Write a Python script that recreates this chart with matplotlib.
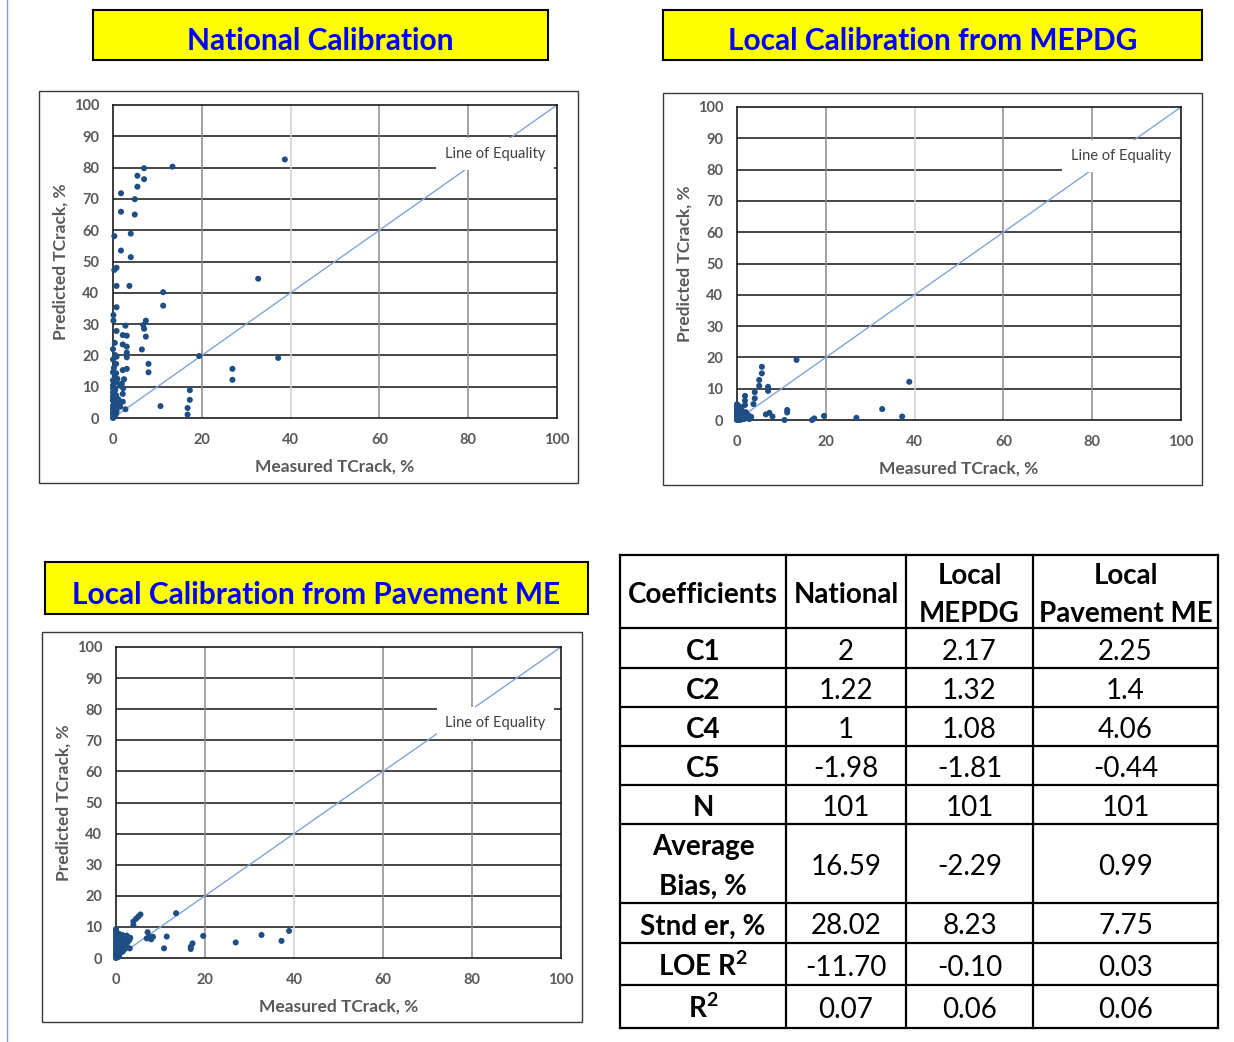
import matplotlib
matplotlib.use("Agg")
import matplotlib.pyplot as plt
from matplotlib.patches import Rectangle
from matplotlib.lines import Line2D

plt.rcParams["font.family"] = ["Lato", "DejaVu Sans"]
plt.rcParams["mathtext.fontset"] = "custom"
plt.rcParams["mathtext.rm"] = "Lato"
plt.rcParams["mathtext.bf"] = "Lato:bold"

# ---------------------------------------------------------------- data
# National calibration: measured vs predicted transverse cracking (%)
nat_measured = [38.7, 13.4, 7.0, 5.5, 7.0, 5.5, 1.8, 4.9, 1.8, 4.9, 0.3, 4.0, 1.8, 4.0,
                0.3, 0.8, 0.8, 3.7, 11.3, 11.3, 32.7, 0.8, 0.1, 0.1, 2.8, 7.4, 6.8, 7.0,
                7.4, 0.8, 2.2, 3.1, 2.2, 3.1, 6.5, 3.1, 3.1, 0.5, 0.8, 0.0, 0.7, 19.4,
                37.2, 8.0, 8.0, 26.9, 26.9, 0.0, 0.7, 2.2, 3.1, 2.5, 0.8, 1.6, 2.3, 0.0,
                0.7, 2.2, 2.2, 17.3, 17.3, 16.8, 16.8, 10.7, 0.0, 0.7, 0.0, 0.7, 0.0, 0.7,
                0.3, 1.6, 2.8, 0.0, 0.2, 0.5, 0.0, 0.3, 0.5, 0.0, 1.0, 0.2, 0.0, 0.4,
                0.0, 0.3, 0.6, 0.0, 0.2, 1.2, 0.0, 0.4, 2.0, 0.1, 0.0, 0.5, 1.4, 0.0,
                0.3, 0.0, 0.8]
nat_predicted = [82.6, 80.3, 79.8, 77.4, 76.3, 73.9, 71.8, 69.9, 65.9, 65.0, 58.1, 58.9, 53.5, 51.4,
                 47.3, 48.0, 42.2, 42.2, 40.2, 35.9, 44.5, 35.4, 32.9, 31.1, 29.5, 31.1, 29.7, 28.5,
                 26.0, 27.8, 26.5, 26.3, 23.5, 22.8, 21.9, 20.9, 19.4, 20.1, 19.6, 18.7, 17.3, 19.8,
                 19.2, 17.3, 14.6, 15.7, 12.2, 14.6, 14.3, 15.3, 15.7, 12.4, 11.4, 10.3, 9.5, 8.2,
                 7.3, 7.7, 5.2, 8.9, 5.8, 3.2, 1.1, 3.8, 6.0, 6.4, 4.0, 3.5, 2.0, 1.5,
                 0.5, 3.6, 2.8, 0.0, 1.0, 2.5, 3.0, 5.0, 9.0, 10.5, 12.5, 16.0, 22.0, 24.0,
                 1.5, 2.0, 4.5, 7.0, 8.5, 6.0, 12.0, 13.0, 11.0, 0.3, 5.5, 0.8, 4.2, 9.5,
                 3.3, 1.2, 2.2]

# Local calibration from MEPDG
mepdg_measured = [13.4, 5.6, 5.6, 5.0, 5.0, 7.0, 7.0, 4.0, 4.0, 3.7, 1.8, 1.8, 1.8, 38.8,
                  32.7, 37.2, 26.9, 19.6, 17.4, 16.9, 11.3, 11.3, 10.7, 6.5, 7.3, 8.0, 2.5, 3.2,
                  0.0, 0.2, 0.5, 0.8, 0.0, 0.3, 0.0, 0.5, 0.0, 0.4, 1.0, 1.5, 1.2, 2.0,
                  0.7, 1.0, 0.0, 2.2, 2.8, 0.1, 0.3, 0.6, 0.9, 1.3, 0.0, 0.2, 0.4, 0.0,
                  0.6, 1.1, 1.6, 0.0, 0.3, 0.8, 0.1, 0.5, 1.4, 0.0, 0.2, 2.4, 0.7, 0.0,
                  0.4, 1.9, 0.0, 0.3, 0.9, 0.1, 0.6, 0.0, 1.2, 0.2, 0.0, 0.5, 0.8, 0.0,
                  0.3, 1.7, 0.1, 0.0, 0.6, 0.4, 2.6, 0.0, 0.2, 1.0, 0.0, 0.5, 0.3, 0.0,
                  1.5, 0.1, 0.7]
mepdg_predicted = [19.2, 17.0, 14.9, 12.8, 10.9, 10.6, 9.3, 8.9, 6.9, 5.1, 7.7, 6.2, 4.8, 12.2,
                   3.5, 1.1, 0.7, 1.3, 0.5, 0.0, 3.2, 2.4, 0.0, 1.8, 2.3, 1.1, 1.6, 1.0,
                   0.0, 0.5, 1.0, 1.5, 2.0, 2.5, 3.0, 3.5, 4.0, 4.5, 0.5, 1.0, 2.0, 2.5,
                   3.0, 3.8, 5.0, 0.8, 0.3, 1.2, 1.8, 2.2, 0.2, 0.6, 2.8, 3.3, 0.0, 1.4,
                   4.2, 1.7, 0.4, 3.6, 0.9, 2.6, 0.1, 2.9, 1.9, 0.7, 1.6, 1.3, 0.2, 4.6,
                   3.9, 0.5, 2.4, 0.0, 3.1, 2.0, 1.1, 0.3, 2.7, 4.1, 1.8, 0.6, 0.1, 3.4,
                   1.5, 2.1, 0.8, 2.2, 3.7, 0.2, 1.2, 0.9, 2.5, 1.0, 0.4, 1.9, 4.3, 0.6,
                   0.3, 3.2, 2.3]

# Local calibration from Pavement ME
pme_measured = [13.5, 5.5, 5.0, 4.5, 3.9, 3.9, 0.0, 7.1, 7.5, 8.3, 6.9, 7.9, 11.4, 10.8,
                19.6, 17.2, 16.8, 16.8, 26.9, 32.7, 37.2, 38.9, 3.0, 3.1,
                0.0, 0.0, 0.0, 0.0, 0.0, 0.0, 0.0, 0.0, 0.0, 0.0, 0.0, 0.0,
                0.5, 0.8, 1.2, 1.5, 2.0, 2.4, 0.6, 1.0, 1.8, 2.6, 0.3, 0.9,
                1.4, 2.2, 0.4, 1.1, 1.7, 2.8, 0.7, 1.3, 0.2, 2.0, 1.6, 0.5,
                1.0, 2.3, 0.8, 1.5, 0.3, 1.9, 2.7, 0.6, 1.2, 0.1, 2.5, 1.8,
                0.4, 0.9, 1.4, 0.2, 2.1, 0.7, 1.6, 0.0, 0.5, 1.1, 3.2, 2.9,
                0.3, 0.8, 1.3, 0.0, 0.6, 2.4, 1.0, 0.2, 1.7, 0.4, 1.5, 0.1,
                0.9, 2.2, 0.0, 0.5, 1.2]
pme_predicted = [14.4, 14.0, 13.3, 12.6, 11.7, 10.6, 9.3, 8.3, 6.9, 6.8, 6.3, 6.0, 6.9, 3.1,
                 7.1, 4.7, 3.6, 2.9, 5.0, 7.4, 5.5, 8.7, 5.8, 3.1,
                 0.0, 1.0, 2.0, 3.0, 4.0, 5.0, 6.0, 7.0, 8.0, 0.5, 1.5, 8.6,
                 5.2, 7.4, 6.8, 5.9, 6.6, 7.2, 3.6, 4.4, 5.4, 6.2, 2.6, 6.1,
                 4.8, 5.0, 1.2, 2.2, 3.9, 6.4, 0.8, 3.0, 4.3, 7.0, 6.9, 4.6,
                 5.6, 4.0, 2.0, 3.4, 6.6, 5.7, 5.3, 7.8, 4.1, 3.8, 6.8, 2.7,
                 5.5, 4.9, 6.3, 2.4, 3.2, 6.0, 5.1, 4.5, 0.3, 1.8, 6.5, 5.8,
                 7.1, 3.3, 7.5, 2.5, 5.0, 4.7, 6.1, 1.4, 6.7, 3.8, 2.1, 5.2,
                 7.2, 5.9, 6.9, 0.9, 4.4]

x_ticks = [0, 20, 40, 60, 80, 100]
y_ticks = [0, 10, 20, 30, 40, 50, 60, 70, 80, 90, 100]

# Calibration summary table
table_header = [["Coefficients"], ["National"], ["Local", "MEPDG"], ["Local", "Pavement ME"]]
row_labels = [["C1"], ["C2"], ["C4"], ["C5"], ["N"], ["Average", "Bias, %"],
              ["Stnd er, %"], [r"LOE $\mathbf{R}^{\mathbf{2}}$"], [r"$\mathbf{R}^{\mathbf{2}}$"]]
col_national = ["2", "1.22", "1", "-1.98", "101", "16.59", "28.02", "-11.70", "0.07"]
col_mepdg = ["2.17", "1.32", "1.08", "-1.81", "101", "-2.29", "8.23", "-0.10", "0.06"]
col_pavement_me = ["2.25", "1.4", "4.06", "-0.44", "101", "0.99", "7.75", "0.03", "0.06"]

# ---------------------------------------------------------------- layout
W, H = 1234, 1042
fig = plt.figure(figsize=(W / 100, H / 100), dpi=100)
fig.patch.set_facecolor("white")


def fbox(x0, y0, x1, y1):
    return [x0 / W, 1 - y1 / H, (x1 - x0) / W, (y1 - y0) / H]


def fig_rect(x0, y0, x1, y1, **kw):
    r = Rectangle((x0 / W, 1 - y1 / H), (x1 - x0) / W, (y1 - y0) / H,
                  transform=fig.transFigure, **kw)
    fig.add_artist(r)
    return r


# thin page rule at the left edge
fig.add_artist(Line2D([7 / W, 7 / W], [0, 1], transform=fig.transFigure,
                      color="#7f9fc9", lw=1.0))

DOT = "#1f4e85"
TICK_GRAY = "#595959"


def draw_panel(title, title_box, frame_box, plot_box, xs, ys, loe_xy):
    # yellow title banner
    fig_rect(*title_box, facecolor="#ffff00", edgecolor="black", lw=1.5, zorder=1)
    tx = (title_box[0] + title_box[2]) / 2 / W
    ty = 1 - (title_box[3] - 10.5) / H
    fig.text(tx, ty, title, ha="center", va="baseline", color="#0000ff",
             fontsize=21.5, fontweight="bold", zorder=2)

    # chart frame
    fig_rect(*frame_box, facecolor="white", edgecolor="#3a3a3a", lw=1.0, zorder=0)

    ax = fig.add_axes(fbox(*plot_box))
    ax.set_xlim(0, 100)
    ax.set_ylim(0, 100)
    ax.set_xticks(x_ticks)
    ax.set_yticks(y_ticks)
    ax.tick_params(length=0, labelsize=10.5, labelcolor=TICK_GRAY)
    ax.tick_params(axis="x", pad=11)
    ax.tick_params(axis="y", pad=10)
    for lab in ax.get_xticklabels() + ax.get_yticklabels():
        lab.set_fontweight("bold")
    for sp in ax.spines.values():
        sp.set_color("#1a1a1a")
        sp.set_linewidth(1.2)

    for yv in y_ticks[1:-1]:
        ax.axhline(yv, color="#262626", lw=1.2, zorder=1)
    for xv in x_ticks[1:-1]:
        ax.axvline(xv, color="#d0d0d0" if xv == 40 else "#8a8a8a", lw=1.1, zorder=1)

    ax.plot([0, 100], [0, 100], color="#7ea6d8", lw=1.0, zorder=2)
    ax.scatter(xs, ys, s=19, color=DOT, edgecolors="none", zorder=4, clip_on=False)

    ax.text(loe_xy[0], loe_xy[1], "Line of Equality", ha="center", va="center",
            fontsize=10.5, color="#404040", zorder=3,
            bbox=dict(boxstyle="square,pad=0.6", facecolor="white", edgecolor="none"))

    ax.set_xlabel("Measured TCrack, %", fontsize=12.5, fontweight="bold",
                  color=TICK_GRAY, labelpad=8)
    ax.set_ylabel("Predicted TCrack, %", fontsize=12.5, fontweight="bold",
                  color=TICK_GRAY, labelpad=4)
    return ax


draw_panel("National Calibration", (93, 10, 548, 60), (39, 91, 578, 483),
           (113, 105, 557, 418), nat_measured, nat_predicted, (86.1, 84.3))
draw_panel("Local Calibration from MEPDG", (663, 10, 1202, 60), (663, 93, 1202, 485),
           (737, 107, 1181, 420), mepdg_measured, mepdg_predicted, (86.5, 84.3))
draw_panel("Local Calibration from Pavement ME", (45, 562, 588, 614), (42, 632, 582, 1022),
           (116, 647, 561, 958), pme_measured, pme_predicted, (85.3, 75.6))

# ---------------------------------------------------------------- table
tab = fig.add_axes([0, 0, 1, 1], zorder=5)
tab.set_xlim(0, W)
tab.set_ylim(H, 0)
tab.axis("off")

col_edges = [620, 786, 906, 1033, 1218]
row_edges = [555, 628, 668, 707, 746, 785, 824, 903, 943, 985, 1028]
for xe in col_edges:
    tab.plot([xe, xe], [row_edges[0], row_edges[-1]], color="black", lw=1.6,
             solid_capstyle="projecting")
for ye in row_edges:
    tab.plot([col_edges[0], col_edges[-1]], [ye, ye], color="black", lw=1.6,
             solid_capstyle="projecting")

FS = 20
LINE_GAP = 39
CAP_HALF = 11.5


def cell_text(ci, ri, lines, bold):
    cx = (col_edges[ci] + col_edges[ci + 1]) / 2
    cy = (row_edges[ri] + row_edges[ri + 1]) / 2
    n = len(lines)
    for k, s in enumerate(lines):
        yy = cy + (k - (n - 1) / 2) * LINE_GAP + CAP_HALF
        tab.text(cx, yy, s, ha="center", va="baseline", fontsize=FS,
                 fontweight="bold" if bold else "normal", color="black")


for ci, lines in enumerate(table_header):
    cell_text(ci, 0, lines, True)
for ri, lines in enumerate(row_labels):
    cell_text(0, ri + 1, lines, True)
for ci, col in enumerate([col_national, col_mepdg, col_pavement_me]):
    for ri, v in enumerate(col):
        cell_text(ci + 1, ri + 1, [v], False)

fig.savefig("out.png", dpi=100)
